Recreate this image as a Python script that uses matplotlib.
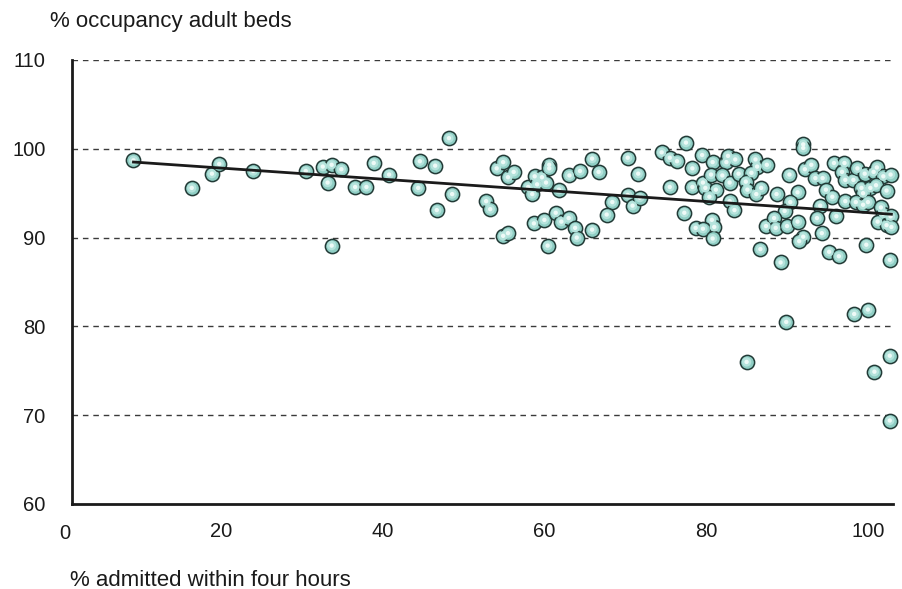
import numpy as np
import matplotlib
matplotlib.use("Agg")
import matplotlib.pyplot as plt

plt.rcParams.update({
    "font.family": ["Liberation Sans", "DejaVu Sans"],
    "font.size": 14.5,
})

# % admitted within four hours (x) and % occupancy of adult beds (y), one pair per trust
admitted = [
    9.2, 16.4, 18.9, 19.8, 24.0, 30.5, 32.6, 33.7, 34.9, 33.2, 33.7, 36.6, 38.0, 38.9,
    40.8, 44.6, 44.4, 46.5, 46.7, 48.2, 48.6,
    52.8, 53.3, 54.1, 54.9, 55.5, 56.2, 54.9, 55.5, 58.0, 58.5, 58.8, 59.1, 59.7, 60.2,
    60.6, 60.6, 61.8, 63.1, 64.4, 65.9, 66.7, 68.4, 67.7, 58.7, 60.0, 61.4, 62.1, 63.0,
    63.8, 64.0, 65.9, 60.4,
    70.3, 71.6, 70.3, 70.9, 71.8, 74.5, 75.5, 76.4, 77.5, 75.5, 78.3, 77.3, 78.3, 78.7,
    79.5, 80.8, 82.5, 82.7, 83.6, 79.6, 79.9, 80.6, 82.0, 81.2, 80.4, 82.9, 84.0, 82.9,
    83.5, 86.1, 86.3, 87.5, 85.6, 84.9, 85.1, 86.2, 86.8, 88.7, 90.3, 91.3, 90.4, 89.7,
    80.7, 81.0, 79.6, 80.8, 87.4, 88.4, 88.6, 90.0, 91.3, 86.7, 89.2,
    92.0, 92.0, 92.2, 93.0, 93.5, 94.4, 94.8, 95.6, 95.8, 97.1, 96.8, 97.2, 98.2, 98.7,
    99.6, 100.7, 101.1, 101.9, 102.8, 99.2, 100.3, 101.0, 99.4, 102.3, 97.2, 98.5, 99.4,
    100.0, 94.1, 93.7, 96.1, 101.6, 101.9, 101.2, 102.3, 102.8, 102.9, 92.0, 91.5, 94.3,
    99.8, 95.2, 96.4, 102.7,
    89.9, 98.3, 100.0, 85.0, 102.7, 100.8, 102.7,
]
occupancy = [
    98.7, 95.6, 97.2, 98.3, 97.5, 97.5, 98.0, 98.2, 97.7, 96.2, 89.1, 95.7, 95.7, 98.4,
    97.1, 98.6, 95.6, 98.1, 93.1, 101.2, 94.9,
    94.1, 93.2, 97.8, 98.5, 96.8, 97.4, 90.2, 90.5, 95.7, 94.9, 96.9, 96.0, 96.8, 96.2,
    98.2, 97.8, 95.4, 97.0, 97.5, 98.9, 97.4, 94.0, 92.6, 91.6, 92.0, 92.8, 91.8, 92.2,
    91.1, 90.0, 90.9, 89.1,
    99.0, 97.2, 94.8, 93.6, 94.5, 99.6, 99.0, 98.6, 100.7, 95.7, 97.8, 92.8, 95.7, 91.1,
    99.3, 98.5, 98.5, 99.2, 98.8, 96.2, 95.6, 97.1, 97.0, 95.4, 94.6, 96.2, 97.2, 94.1,
    93.1, 98.8, 98.0, 98.2, 97.3, 96.3, 95.4, 94.9, 95.6, 94.9, 97.1, 95.1, 94.0, 93.0,
    92.0, 91.2, 91.0, 89.9, 91.3, 92.2, 91.1, 91.3, 91.8, 88.7, 87.2,
    100.5, 100.1, 97.7, 98.2, 96.7, 96.7, 95.4, 94.6, 98.4, 98.4, 97.4, 96.5, 96.5, 97.8,
    97.2, 97.4, 97.9, 96.9, 97.1, 95.6, 95.6, 95.9, 95.0, 95.3, 94.1, 94.0, 93.7,
    94.0, 93.6, 92.2, 92.4, 93.4, 92.7, 91.8, 91.4, 92.4, 91.2, 90.1, 89.6, 90.5,
    89.2, 88.4, 87.9, 87.5,
    80.5, 81.4, 81.9, 76.0, 76.7, 74.9, 69.4,
]

x_ticks = [0, 20, 40, 60, 80, 100]
y_ticks = [60, 70, 80, 90, 100, 110]

fig = plt.figure(figsize=(9.02, 5.89), dpi=100)
ax = fig.add_axes([72 / 902, 1 - 504 / 589, (893 - 72) / 902, (504 - 60) / 589])

x = np.array(admitted)
y = np.array(occupancy)

# gridlines (dashed) at each y tick above the base
for yt in y_ticks[1:]:
    ax.axhline(yt, color="#3a3a3a", lw=1.0, ls=(0, (4, 3.5)), zorder=1)

# bubbles: teal disc with a pale centre (not clipped at the right edge)
ax.scatter(x, y, s=105, c="#8fcec4", edgecolors="#223a36", linewidths=1.1, zorder=3,
           clip_on=False)
ax.scatter(x, y, s=45, c="#b5e3dc", edgecolors="none", zorder=4, clip_on=False)
ax.scatter(x, y, s=10, c="#eefaf7", edgecolors="none", zorder=5, clip_on=False)

# linear trend line
slope, intercept = np.polyfit(x, y, 1)
xs = np.array([x.min(), x.max()])
ax.plot(xs, slope * xs + intercept, color="#1a1a1a", lw=2.0, zorder=6)

ax.set_xlim(1.6, 103.1)
ax.set_ylim(60, 110)
ax.set_xticks(x_ticks[1:])
ax.set_yticks(y_ticks)
ax.tick_params(axis="both", length=0, colors="#1a1a1a")
ax.tick_params(axis="y", pad=19)
ax.tick_params(axis="x", pad=13)
ax.text(0.75, -0.045, "0", transform=ax.get_xaxis_transform(), ha="center", va="top",
        color="#1a1a1a", clip_on=False)

for side in ["top", "right"]:
    ax.spines[side].set_visible(False)
for side in ["left", "bottom"]:
    ax.spines[side].set_linewidth(2.0)
    ax.spines[side].set_color("#1a1a1a")

fig.text(50 / 902, 1 - 22 / 589, "% occupancy adult beds", ha="left", va="center",
         color="#1a1a1a", fontsize=16)
fig.text(70 / 902, 1 - 580 / 589, "% admitted within four hours", ha="left", va="center",
         color="#1a1a1a", fontsize=16)

fig.savefig("out.png", dpi=100)
